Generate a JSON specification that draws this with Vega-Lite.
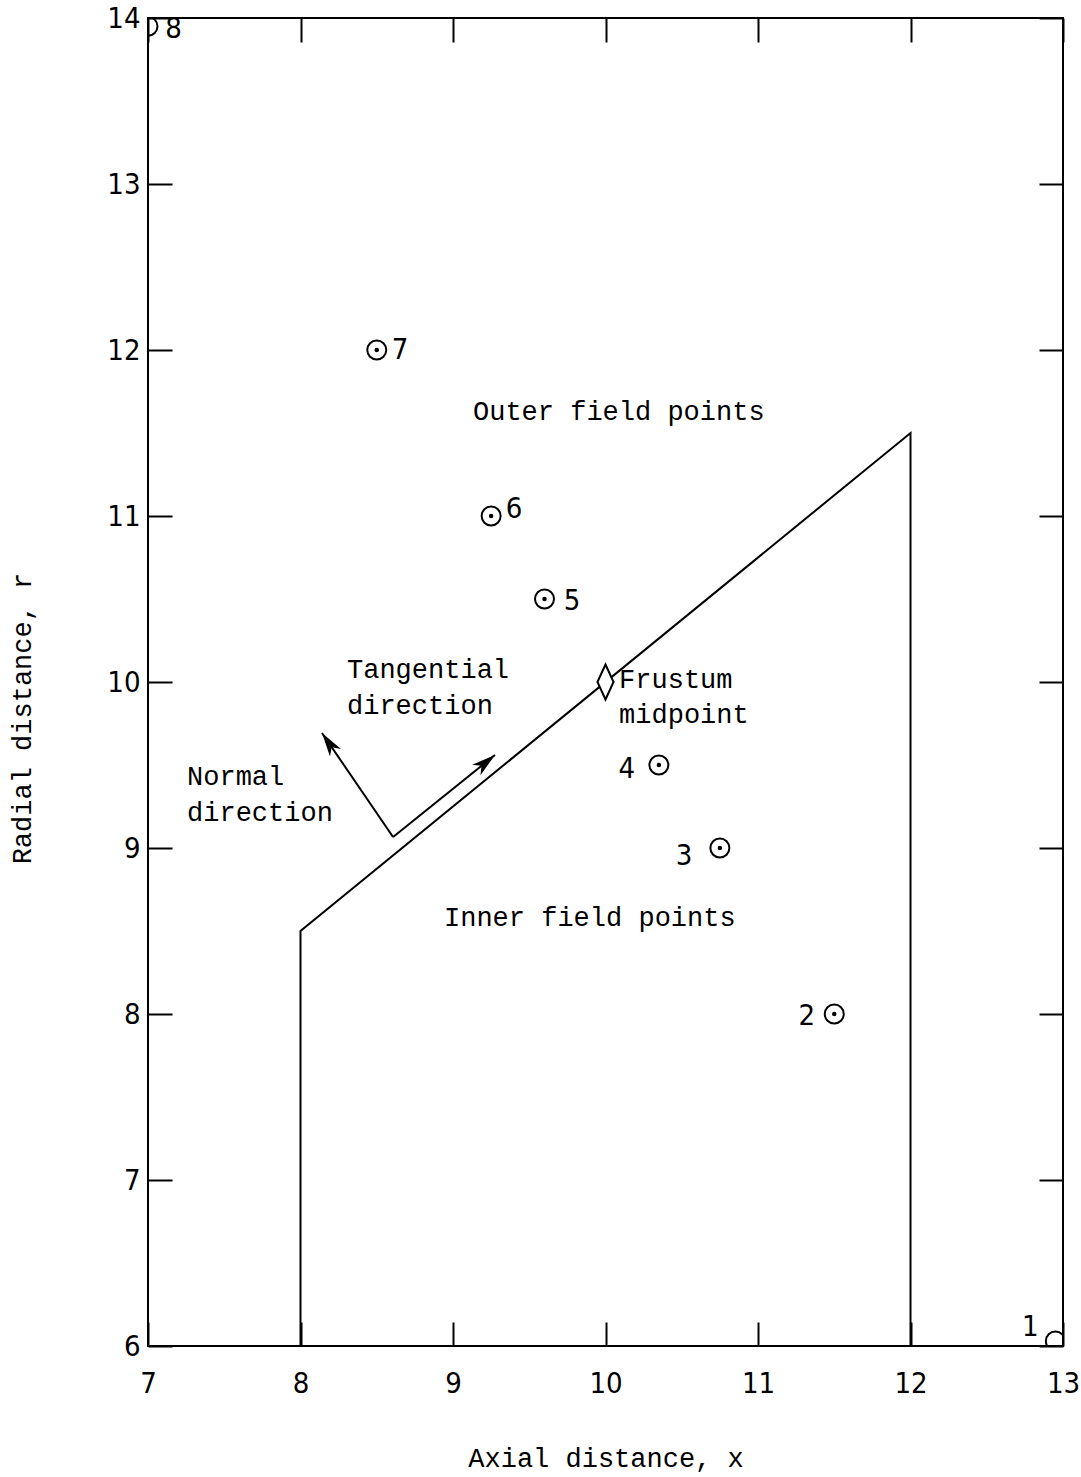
{
  "$schema": "https://vega.github.io/schema/vega-lite/v6.json",
  "width": 915,
  "height": 1328,
  "autosize": {"type": "none"},
  "padding": {"left": 148, "top": 18, "right": 18, "bottom": 131},
  "background": "white",
  "config": {
    "view": {"stroke": "black", "strokeWidth": 2},
    "axis": {"domain": false, "grid": false}
  },
  "datasets": {
    "frustum": [
      {"x": 8, "y": 6, "o": 0},
      {"x": 8, "y": 8.5, "o": 1},
      {"x": 12, "y": 11.5, "o": 2},
      {"x": 12, "y": 6, "o": 3}
    ],
    "arrows": [
      {"arrow": "tangent", "x": 8.607, "y": 9.066, "o": 0},
      {"arrow": "tangent", "x": 9.275, "y": 9.56, "o": 1},
      {"arrow": "normal", "x": 8.607, "y": 9.066, "o": 0},
      {"arrow": "normal", "x": 8.141, "y": 9.693, "o": 1}
    ],
    "heads": [
      {"arrow": "tangent", "x": 9.275, "y": 9.56},
      {"arrow": "normal", "x": 8.141, "y": 9.693}
    ],
    "fieldpoints": [
      {"id": "1", "x": 12.95, "y": 6.03},
      {"id": "2", "x": 11.5, "y": 8.0},
      {"id": "3", "x": 10.75, "y": 9.0},
      {"id": "4", "x": 10.35, "y": 9.5},
      {"id": "5", "x": 9.6, "y": 10.5},
      {"id": "6", "x": 9.25, "y": 11.0},
      {"id": "7", "x": 8.5, "y": 12.0},
      {"id": "8", "x": 7.0, "y": 13.95}
    ],
    "pointlabels": [
      {"label": "1", "x": 12.785, "y": 6.115},
      {"label": "2", "x": 11.32, "y": 7.988},
      {"label": "3", "x": 10.515, "y": 8.952},
      {"label": "4", "x": 10.14, "y": 9.476},
      {"label": "5", "x": 9.78, "y": 10.49},
      {"label": "6", "x": 9.4, "y": 11.04},
      {"label": "7", "x": 8.652, "y": 12.0},
      {"label": "8", "x": 7.167, "y": 13.934}
    ],
    "midpoint": [
      {"x": 10, "y": 10}
    ],
    "notes": [
      {"label": "Outer field points", "x": 9.131, "y": 11.627},
      {"label": "Inner field points", "x": 8.941, "y": 8.578},
      {"label": "Tangential", "x": 8.305, "y": 10.07},
      {"label": "direction", "x": 8.305, "y": 9.855},
      {"label": "Normal", "x": 7.256, "y": 9.428},
      {"label": "direction", "x": 7.256, "y": 9.211},
      {"label": "Frustum", "x": 10.089, "y": 10.012},
      {"label": "midpoint", "x": 10.089, "y": 9.8}
    ]
  },
  "resolve": {"axis": {"x": "independent", "y": "independent"}},
  "layer": [
    {
      "data": {"name": "frustum"},
      "mark": {"type": "line", "color": "black", "strokeWidth": 2},
      "encoding": {
        "x": {
          "field": "x", "type": "quantitative",
          "scale": {"domain": [7, 13], "nice": false, "zero": false},
          "axis": {
            "orient": "bottom", "values": [7, 8, 9, 10, 11, 12, 13],
            "tickSize": -24, "tickWidth": 2, "tickColor": "black",
            "labelFont": "DejaVu Sans Condensed, Roboto, sans-serif", "labelFontSize": 29, "labelColor": "black",
            "labelPadding": 47, "labelFlush": false, "labelOverlap": false,
            "title": "Axial distance, x", "titleFont": "Liberation Mono", "titleFontSize": 27,
            "titleFontWeight": "normal", "titleColor": "black", "titleBaseline": "middle",
            "titleY": 112
          }
        },
        "y": {
          "field": "y", "type": "quantitative",
          "scale": {"domain": [6, 14], "nice": false, "zero": false},
          "axis": {
            "orient": "left", "values": [6, 7, 8, 9, 10, 11, 12, 13, 14],
            "tickSize": -24, "tickWidth": 2, "tickColor": "black",
            "labelFont": "DejaVu Sans Condensed, Roboto, sans-serif", "labelFontSize": 29, "labelColor": "black",
            "labelPadding": 32, "labelFlush": false, "labelOverlap": false,
            "title": "Radial distance, r", "titleFont": "Liberation Mono", "titleFontSize": 27,
            "titleFontWeight": "normal", "titleColor": "black", "titleBaseline": "middle",
            "titleAlign": "center", "titleAngle": -90, "titleX": -126, "titleY": 700
          }
        },
        "order": {"field": "o", "type": "quantitative"}
      }
    },
    {
      "data": {"name": "arrows"},
      "mark": {"type": "line", "color": "black", "strokeWidth": 2},
      "encoding": {
        "x": {
          "field": "x", "type": "quantitative",
          "scale": {"domain": [7, 13], "nice": false, "zero": false},
          "axis": {
            "orient": "top", "values": [7, 8, 9, 10, 11, 12, 13],
            "tickSize": -24, "tickWidth": 2, "tickColor": "black",
            "labels": false, "title": null
          }
        },
        "y": {
          "field": "y", "type": "quantitative",
          "scale": {"domain": [6, 14], "nice": false, "zero": false},
          "axis": {
            "orient": "right", "values": [6, 7, 8, 9, 10, 11, 12, 13, 14],
            "tickSize": -24, "tickWidth": 2, "tickColor": "black",
            "labels": false, "title": null
          }
        },
        "detail": {"field": "arrow"},
        "order": {"field": "o", "type": "quantitative"}
      }
    },
    {
      "data": {"name": "heads"},
      "transform": [{"filter": "datum.arrow == 'tangent'"}],
      "mark": {"type": "point", "shape": "M0,0L-1,-0.28L-0.72,0L-1,0.28Z", "size": 2300, "angle": -38.8, "filled": true, "color": "black", "opacity": 1, "strokeWidth": 1},
      "encoding": {
        "x": {"field": "x", "type": "quantitative", "scale": {"domain": [7, 13], "nice": false, "zero": false}, "axis": null},
        "y": {"field": "y", "type": "quantitative", "scale": {"domain": [6, 14], "nice": false, "zero": false}, "axis": null}
      }
    },
    {
      "data": {"name": "heads"},
      "transform": [{"filter": "datum.arrow == 'normal'"}],
      "mark": {"type": "point", "shape": "M0,0L-1,-0.28L-0.72,0L-1,0.28Z", "size": 2300, "angle": 235.7, "filled": true, "color": "black", "opacity": 1, "strokeWidth": 1},
      "encoding": {
        "x": {"field": "x", "type": "quantitative", "scale": {"domain": [7, 13], "nice": false, "zero": false}, "axis": null},
        "y": {"field": "y", "type": "quantitative", "scale": {"domain": [6, 14], "nice": false, "zero": false}, "axis": null}
      }
    },
    {
      "data": {"name": "fieldpoints"},
      "mark": {"type": "point", "shape": "circle", "size": 361, "filled": false, "color": "black", "opacity": 1, "strokeWidth": 2, "clip": true},
      "encoding": {
        "x": {"field": "x", "type": "quantitative", "scale": {"domain": [7, 13], "nice": false, "zero": false}, "axis": null},
        "y": {"field": "y", "type": "quantitative", "scale": {"domain": [6, 14], "nice": false, "zero": false}, "axis": null}
      }
    },
    {
      "data": {"name": "fieldpoints"},
      "transform": [{"filter": "datum.id != '1' && datum.id != '8'"}],
      "mark": {"type": "circle", "size": 20, "color": "black", "opacity": 1, "clip": true},
      "encoding": {
        "x": {"field": "x", "type": "quantitative", "scale": {"domain": [7, 13], "nice": false, "zero": false}, "axis": null},
        "y": {"field": "y", "type": "quantitative", "scale": {"domain": [6, 14], "nice": false, "zero": false}, "axis": null}
      }
    },
    {
      "data": {"name": "midpoint"},
      "mark": {"type": "point", "shape": "M0,-1L0.46,0L0,1L-0.46,0Z", "size": 1225, "filled": true, "fill": "white", "stroke": "black", "strokeWidth": 2, "opacity": 1},
      "encoding": {
        "x": {"field": "x", "type": "quantitative", "scale": {"domain": [7, 13], "nice": false, "zero": false}, "axis": null},
        "y": {"field": "y", "type": "quantitative", "scale": {"domain": [6, 14], "nice": false, "zero": false}, "axis": null}
      }
    },
    {
      "data": {"name": "pointlabels"},
      "mark": {"type": "text", "font": "DejaVu Sans Condensed, Roboto, sans-serif", "fontSize": 29, "color": "black", "align": "center", "baseline": "middle"},
      "encoding": {
        "x": {"field": "x", "type": "quantitative", "scale": {"domain": [7, 13], "nice": false, "zero": false}, "axis": null},
        "y": {"field": "y", "type": "quantitative", "scale": {"domain": [6, 14], "nice": false, "zero": false}, "axis": null},
        "text": {"field": "label"}
      }
    },
    {
      "data": {"name": "notes"},
      "mark": {"type": "text", "font": "Liberation Mono", "fontSize": 27, "color": "black", "align": "left", "baseline": "middle"},
      "encoding": {
        "x": {"field": "x", "type": "quantitative", "scale": {"domain": [7, 13], "nice": false, "zero": false}, "axis": null},
        "y": {"field": "y", "type": "quantitative", "scale": {"domain": [6, 14], "nice": false, "zero": false}, "axis": null},
        "text": {"field": "label"}
      }
    }
  ]
}
